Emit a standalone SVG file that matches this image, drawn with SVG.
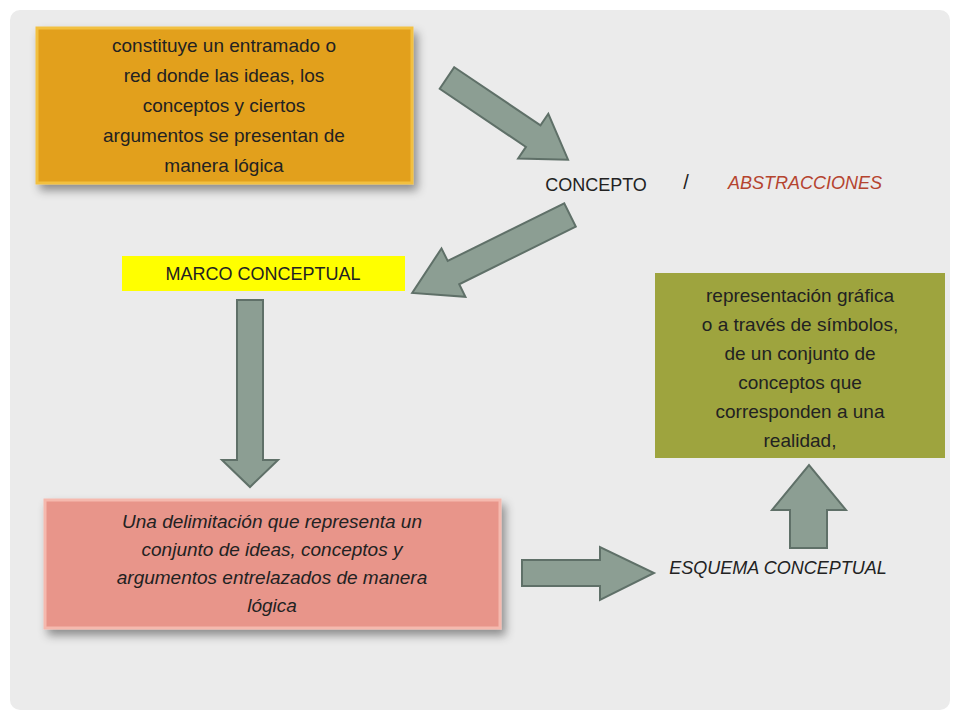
<svg xmlns="http://www.w3.org/2000/svg" width="960" height="720" viewBox="0 0 960 720">
<defs>
<style>
.t{font-family:"Liberation Sans",Arial,sans-serif;font-size:19px;fill:#222;text-anchor:middle}
.arr{fill:#8c9e93;stroke:#5f7068;stroke-width:2}
</style>
<filter id="sh" x="-10%" y="-10%" width="130%" height="140%"><feDropShadow dx="4" dy="6" stdDeviation="5" flood-color="#000" flood-opacity="0.4"/></filter>
</defs>
<rect width="960" height="720" fill="#fff"/>
<rect x="10" y="10" width="940" height="700" rx="10" fill="#ebebeb"/>
<g id="n1">
<rect x="37" y="28" width="375" height="155" fill="#e2a01c" stroke="#f2c040" stroke-width="3" filter="url(#sh)"/>
<text class="t"><tspan x="224" y="52">constituye un entramado o</tspan><tspan x="224" y="82">red donde las ideas, los</tspan><tspan x="224" y="112">conceptos y ciertos</tspan><tspan x="224" y="142">argumentos se presentan de</tspan><tspan x="224" y="172">manera lógica</tspan></text>
</g>
<g id="n2">
<text class="t" x="596" y="191" style="font-size:18px">CONCEPTO</text>
<text class="t" x="686" y="189" style="font-size:20px">/</text>
<text class="t" x="805" y="189" style="font-size:18px;font-style:italic;fill:#b5442f">ABSTRACCIONES</text>
</g>
<g id="n3">
<rect x="122" y="256" width="283" height="35" fill="#ffff00"/>
<text class="t" x="263" y="280" style="font-size:18px">MARCO CONCEPTUAL</text>
</g>
<g id="n4">
<rect x="45" y="500" width="455" height="128" fill="#e8958a" stroke="#f5b9ae" stroke-width="3" filter="url(#sh)"/>
<text class="t" style="font-style:italic"><tspan x="272" y="528">Una delimitación que representa un</tspan><tspan x="272" y="556">conjunto de ideas, conceptos y</tspan><tspan x="272" y="584">argumentos entrelazados de manera</tspan><tspan x="272" y="612">lógica</tspan></text>
</g>
<g id="n5">
<text class="t" x="778" y="574" style="font-size:18px;font-style:italic">ESQUEMA CONCEPTUAL</text>
</g>
<g id="n6">
<rect x="655" y="273" width="290" height="185" fill="#9ea43e"/>
<text class="t"><tspan x="800" y="302">representación gráfica</tspan><tspan x="800" y="331">o a través de símbolos,</tspan><tspan x="800" y="360">de un conjunto de</tspan><tspan x="800" y="389">conceptos que</tspan><tspan x="800" y="418">corresponden a una</tspan><tspan x="800" y="447">realidad,</tspan></text>
</g>
<g id="connectors">
<polygon class="arr" transform="translate(447,78) rotate(34)" points="0,-13 104,-13 104,-27 146,0 104,27 104,13 0,13"/>
<polygon class="arr" transform="translate(570,215) rotate(153.7)" points="0,-13 130,-13 130,-27 176,0 130,27 130,13 0,13"/>
<polygon class="arr" points="237,300 263,300 263,460 278,460 250,487 222,460 237,460"/>
<polygon class="arr" points="522,560 600,560 600,547 654,573 600,600 600,586 522,586"/>
<polygon class="arr" points="790,548 827,548 827,510 846,510 809,465 772,510 790,510"/>
</g>
</svg>
